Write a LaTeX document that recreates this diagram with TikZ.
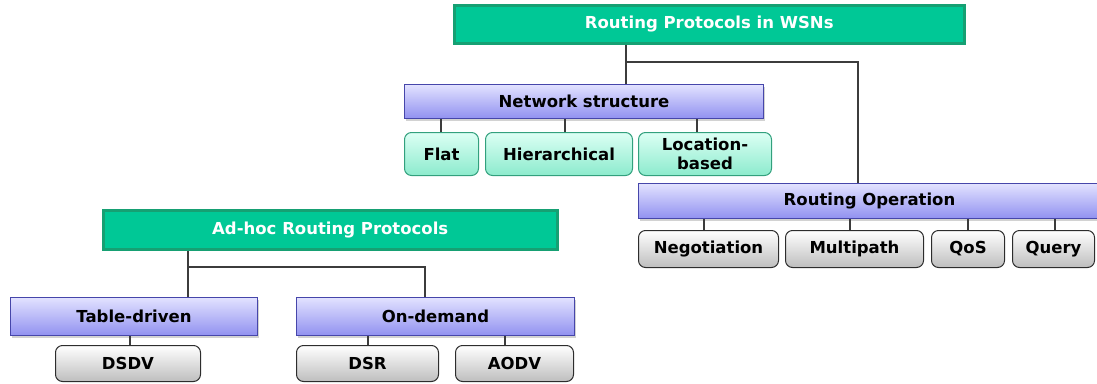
\documentclass[tikz,border=0pt]{standalone}
\usepackage{fontspec}
\setmainfont{DejaVu Sans}
\usetikzlibrary{shadows}

\definecolor{rootfill}{RGB}{0,200,150}
\definecolor{rootedge}{RGB}{22,160,115}
\definecolor{cattop}{RGB}{226,226,255}
\definecolor{catbot}{RGB}{145,145,240}
\definecolor{catedge}{RGB}{70,70,170}
\definecolor{leaftop}{RGB}{220,255,244}
\definecolor{leafbot}{RGB}{140,235,205}
\definecolor{leafedge}{RGB}{50,160,125}
\definecolor{optbot}{RGB}{190,190,190}
\definecolor{opedge}{RGB}{45,45,45}
\definecolor{linkc}{RGB}{60,60,60}

\tikzset{
  base/.style={anchor=north west, inner sep=0pt, align=center,
    font=\bfseries\fontsize{16.5}{19.5}\selectfont},
  rootbox/.style={base, fill=rootfill, draw=rootedge, line width=2.5pt, text=white},
  catbox/.style={base, draw=catedge, line width=1pt, top color=cattop, bottom color=catbot,
    drop shadow={shadow xshift=1pt, shadow yshift=-2pt, fill=black!35}},
  leafbox/.style={base, rounded corners=7pt, draw=leafedge, line width=1pt,
    top color=leaftop, bottom color=leafbot},
  opbox/.style={base, rounded corners=7pt, draw=opedge, line width=1pt,
    top color=white, bottom color=optbot},
  link/.style={draw=linkc, line width=1.2pt},
}

\begin{document}
\begin{tikzpicture}[x=1pt,y=-1pt]
\useasboundingbox (0,0) rectangle (1097,383);

% WSN routing taxonomy
\node[rootbox, minimum width=510pt, minimum height=38pt] (root) at (453,4) {Routing Protocols in WSNs};
\node[catbox, minimum width=359pt, minimum height=34pt] (net) at (404,84) {Network structure};
\node[leafbox, minimum width=74pt, minimum height=43pt] (flat) at (404,132) {Flat};
\node[leafbox, minimum width=147pt, minimum height=43pt] (hier) at (485,132) {Hierarchical};
\node[leafbox, minimum width=133pt, minimum height=43pt] (loc) at (638,132) {Location-\\based};
\node[catbox, minimum width=462pt, minimum height=35pt] (rop) at (638,183) {Routing Operation};
\node[opbox, minimum width=140pt, minimum height=37pt] (neg) at (638,230) {Negotiation};
\node[opbox, minimum width=138pt, minimum height=37pt] (multi) at (785,230) {Multipath};
\node[opbox, minimum width=73pt, minimum height=37pt] (qos) at (931,230) {QoS};
\node[opbox, minimum width=82pt, minimum height=37pt] (query) at (1012,230) {Query};

% ad-hoc routing taxonomy
\node[rootbox, minimum width=454pt, minimum height=39pt] (adhoc) at (102,209) {Ad-hoc Routing Protocols};
\node[catbox, minimum width=247pt, minimum height=38pt] (table) at (10,297) {Table-driven};
\node[catbox, minimum width=278pt, minimum height=38pt] (ondem) at (296,297) {On-demand};
\node[opbox, minimum width=145pt, minimum height=36pt] (dsdv) at (55,345) {DSDV};
\node[opbox, minimum width=142pt, minimum height=36pt] (dsr) at (296,345) {DSR};
\node[opbox, minimum width=118pt, minimum height=36pt] (aodv) at (455,345) {AODV};

% junction points
\coordinate (rj) at (626,62);
\coordinate (rk) at (858,62);
\coordinate (aj) at (188,267);
\coordinate (ak) at (425,267);

\draw[link] (root.south -| rj) -- (net.north -| rj);
\draw[link] (rj) -- (rk) -- (rk |- rop.north);
\draw[link] (net.south -| 441,0) -- (flat.north -| 441,0);
\draw[link] (net.south -| 565,0) -- (hier.north -| 565,0);
\draw[link] (net.south -| 697,0) -- (loc.north -| 697,0);
\draw[link] (rop.south -| 704,0) -- (neg.north -| 704,0);
\draw[link] (rop.south -| 850,0) -- (multi.north -| 850,0);
\draw[link] (rop.south -| 968,0) -- (qos.north -| 968,0);
\draw[link] (rop.south -| 1055,0) -- (query.north -| 1055,0);
\draw[link] (adhoc.south -| aj) -- (table.north -| aj);
\draw[link] (aj) -- (ak) -- (ak |- ondem.north);
\draw[link] (table.south -| 130,0) -- (dsdv.north -| 130,0);
\draw[link] (ondem.south -| 368,0) -- (dsr.north -| 368,0);
\draw[link] (ondem.south -| 505,0) -- (aodv.north -| 505,0);
\end{tikzpicture}
\end{document}
